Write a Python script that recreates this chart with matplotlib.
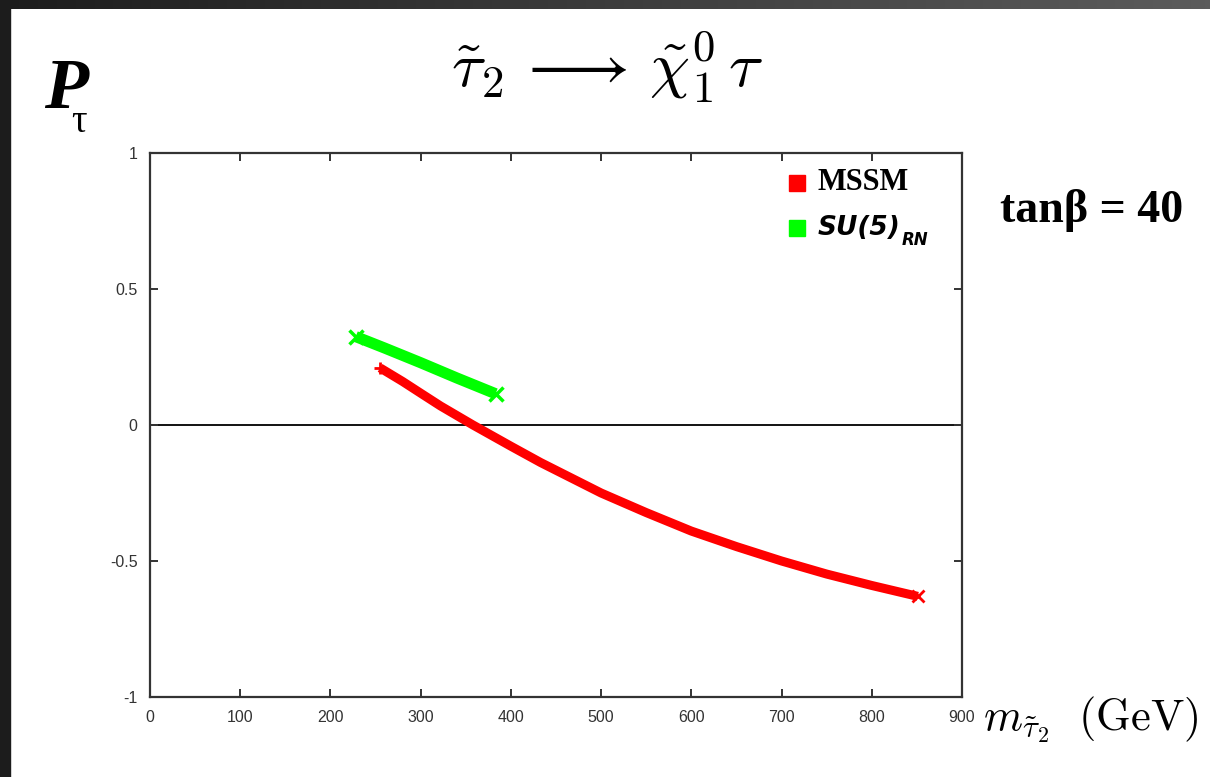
import numpy as np
import matplotlib
matplotlib.use("Agg")
import matplotlib.pyplot as plt
from matplotlib.patches import Rectangle

# ---- data ----
mssm_x = [255, 280, 300, 322, 358, 400, 433, 500, 550, 600, 650, 700, 750, 800, 851]
mssm_y = [0.21, 0.16, 0.117, 0.07, 0.0, -0.078, -0.138, -0.25, -0.322, -0.39, -0.447, -0.50, -0.548, -0.59, -0.63]
su5_x = [228, 260, 300, 340, 383]
su5_y = [0.325, 0.283, 0.229, 0.173, 0.115]
xticks = [0, 100, 200, 300, 400, 500, 600, 700, 800, 900]
yticks = [-1, -0.5, 0, 0.5, 1]
ytick_labels = ["-1", "-0.5", "0", "0.5", "1"]

plt.rcParams['mathtext.fontset'] = 'cm'

fig = plt.figure(figsize=(12.1, 7.77), dpi=100)
W, H = 1210, 777

# dark frame (top gradient band + left band)
grad_ax = fig.add_axes([0, 1 - 9 / H, 1, 9 / H])
grad_ax.imshow(np.linspace(0, 1, 256)[None, :], aspect='auto',
               cmap=matplotlib.colors.LinearSegmentedColormap.from_list('g', ['#1c1c1c', '#5c5c5c']))
grad_ax.axis('off')
fig.patches.append(Rectangle((0, 0), 10 / W, 1, transform=fig.transFigure, color='#1c1c1c', zorder=5))

ax = fig.add_axes([150 / W, 1 - 697 / H, (962 - 150) / W, (697 - 153) / H])
ax.set_xlim(0, 900)
ax.set_ylim(-1, 1)

ax.axhline(0, color='black', lw=1.3, zorder=1)

ax.plot(mssm_x, mssm_y, color='#ff0000', lw=6.5, solid_capstyle='butt', zorder=3)
ax.plot(mssm_x[0], mssm_y[0], marker='+', color='#ff0000', ms=9, mew=2, zorder=3)
ax.plot(mssm_x[-1], mssm_y[-1], marker='x', color='#ff0000', ms=8, mew=2, zorder=3)
ax.plot(su5_x, su5_y, color='#00ff00', lw=8, solid_capstyle='butt', zorder=2)
ax.plot(su5_x[0], su5_y[0], marker='x', color='#00ff00', ms=10, mew=2.5, zorder=2)
ax.plot(su5_x[-1], su5_y[-1], marker='x', color='#00ff00', ms=10, mew=2.5, zorder=2)

ax.set_xticks(xticks)
ax.set_xticklabels([str(v) for v in xticks], fontfamily='Liberation Sans', fontsize=11.5, color='#333333')
ax.set_yticks(yticks)
ax.set_yticklabels(ytick_labels, fontfamily='Liberation Sans', fontsize=11.5, color='#333333')
ax.tick_params(direction='in', length=6, width=1.4, color='#333333', top=True, right=True, pad=9)
for s in ax.spines.values():
    s.set_linewidth(1.6)
    s.set_color('#333333')

# legend (manual)
ax.plot([0.797], [0.945], transform=ax.transAxes, marker='s', ms=11.5, color='#ff0000', ls='none', clip_on=False)
ax.text(0.822, 0.945, "MSSM", transform=ax.transAxes, fontfamily='Liberation Serif', fontweight='bold',
        fontsize=22, va='center', ha='left')
ax.plot([0.797], [0.862], transform=ax.transAxes, marker='s', ms=11.5, color='#00ff00', ls='none', clip_on=False)
ax.text(0.822, 0.862, "SU(5)", transform=ax.transAxes, fontfamily='DejaVu Sans', fontweight='bold',
        fontstyle='italic', fontsize=19, va='center', ha='left')
ax.text(0.926, 0.840, "RN", transform=ax.transAxes, fontfamily='DejaVu Sans', fontweight='bold',
        fontstyle='italic', fontsize=12, va='center', ha='left')

# title and labels
fig.text(607 / W, 1 - 67 / H, r"$\tilde{\tau}_2\,\longrightarrow\,\tilde{\chi}^0_1\,\tau$", fontsize=46,
         ha='center', va='center')
fig.text(44 / W, 1 - 108 / H, "P", fontfamily='Liberation Serif', fontweight='bold', fontstyle='italic',
         fontsize=52, ha='left', va='baseline')
fig.text(71 / W, 1 - 132 / H, "τ", fontfamily='Liberation Serif', fontsize=28, ha='left', va='baseline')
fig.text(1000 / W, 1 - 211 / H, "tanβ = 40", fontfamily='Liberation Serif', fontweight='bold',
         fontsize=33, ha='left', va='center')
fig.text(983 / W, 1 - 720 / H, r"$m_{\tilde{\tau}_2}\ \ (\mathrm{GeV})$", fontsize=32, ha='left', va='center')

fig.savefig("out.png", dpi=100)
